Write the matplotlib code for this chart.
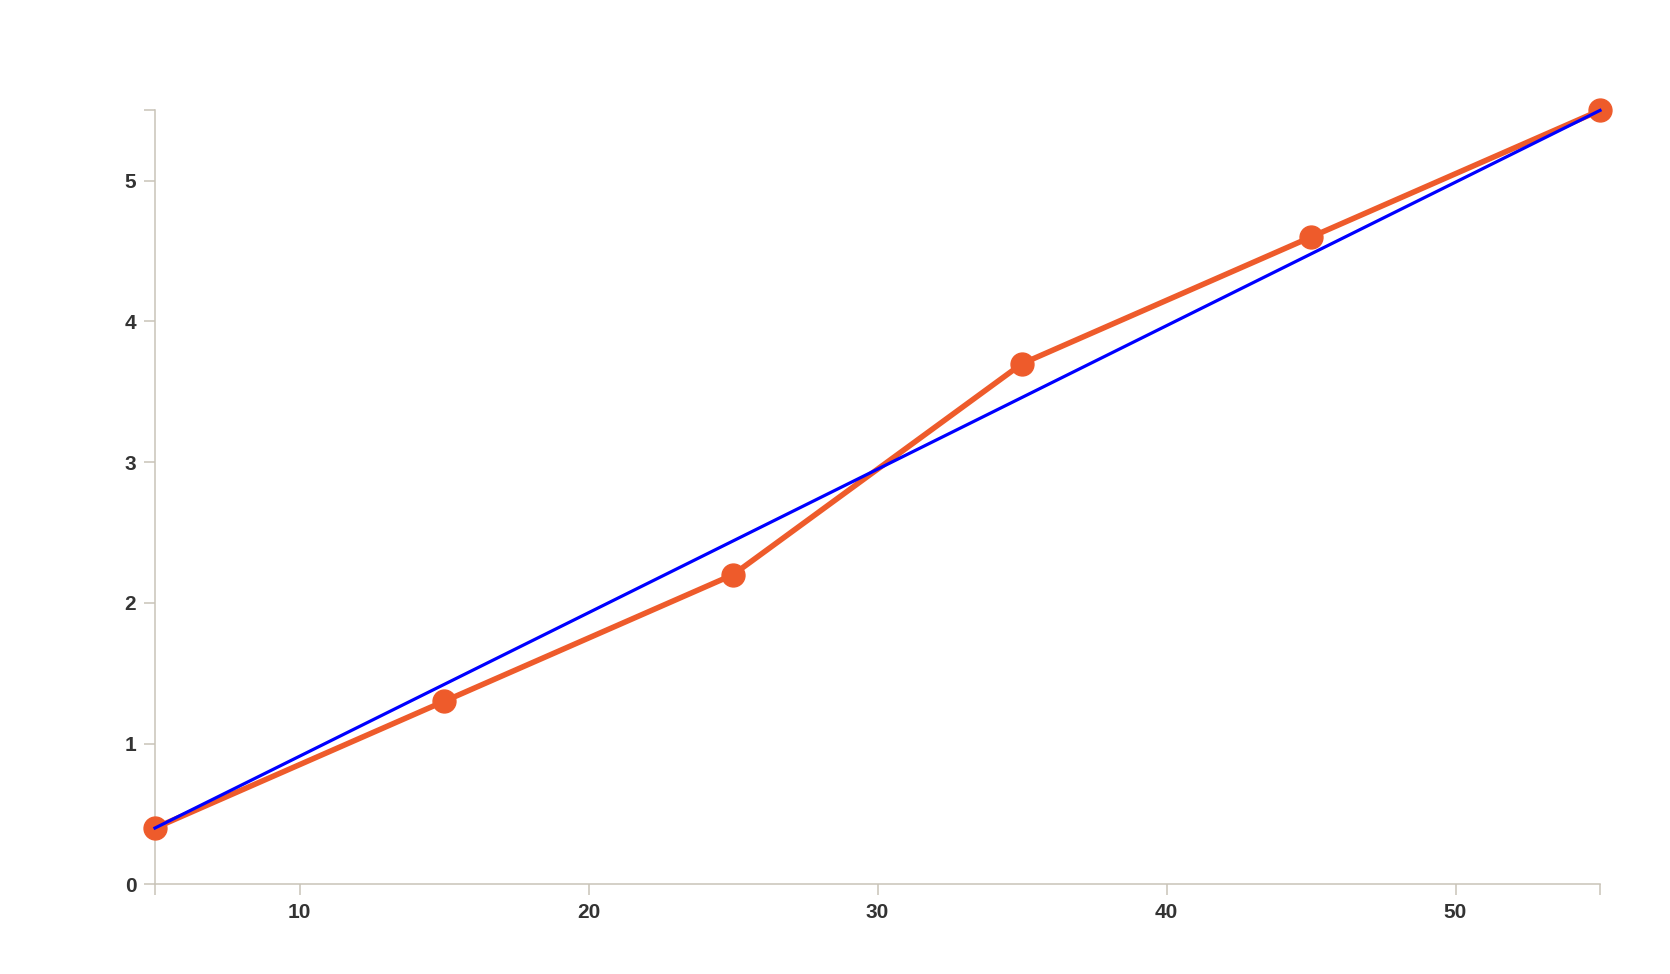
import matplotlib.pyplot as plt

# data
x_vals = [5, 15, 25, 35, 45, 55]
y_vals = [0.4, 1.3, 2.2, 3.7, 4.6, 5.5]
line_x = [5, 55]
line_y = [0.4, 5.5]

x_ticks = [10, 20, 30, 40, 50]
y_ticks = [0, 1, 2, 3, 4, 5]

axis_col = "#c9c3b8"
orange = "#ee5b2b"

plt.rcParams['font.family'] = ['Liberation Sans', 'DejaVu Sans']

fig = plt.figure(figsize=(16.7, 9.74), dpi=100)
ax = fig.add_axes([155 / 1670, 1 - 884.3 / 974, (1600 - 155) / 1670, (884.3 - 110.4) / 974])

ax.plot(x_vals, y_vals, '-o', color=orange, lw=4, markersize=16.5, clip_on=False, zorder=3)
ax.plot(line_x, line_y, '-', color="#0000ff", lw=2.3, clip_on=False, zorder=4)

ax.set_xlim(5, 55)
ax.set_ylim(0, 5.5)
ax.set_xticks(x_ticks)
ax.set_yticks(y_ticks)
ax.set_xticks([5, 55], minor=True)
ax.set_yticks([5.5], minor=True)

for side in ["top", "right"]:
    ax.spines[side].set_visible(False)
for side in ["left", "bottom"]:
    ax.spines[side].set_color(axis_col)
    ax.spines[side].set_linewidth(1.1)

ax.tick_params(which="both", direction="out", length=8, width=1.1, color=axis_col)
ax.tick_params(which="major", labelsize=15, labelcolor="#333333", pad=5.5)
for lab in ax.get_xticklabels() + ax.get_yticklabels():
    lab.set_fontweight("bold")

fig.savefig("out.png", dpi=100)
